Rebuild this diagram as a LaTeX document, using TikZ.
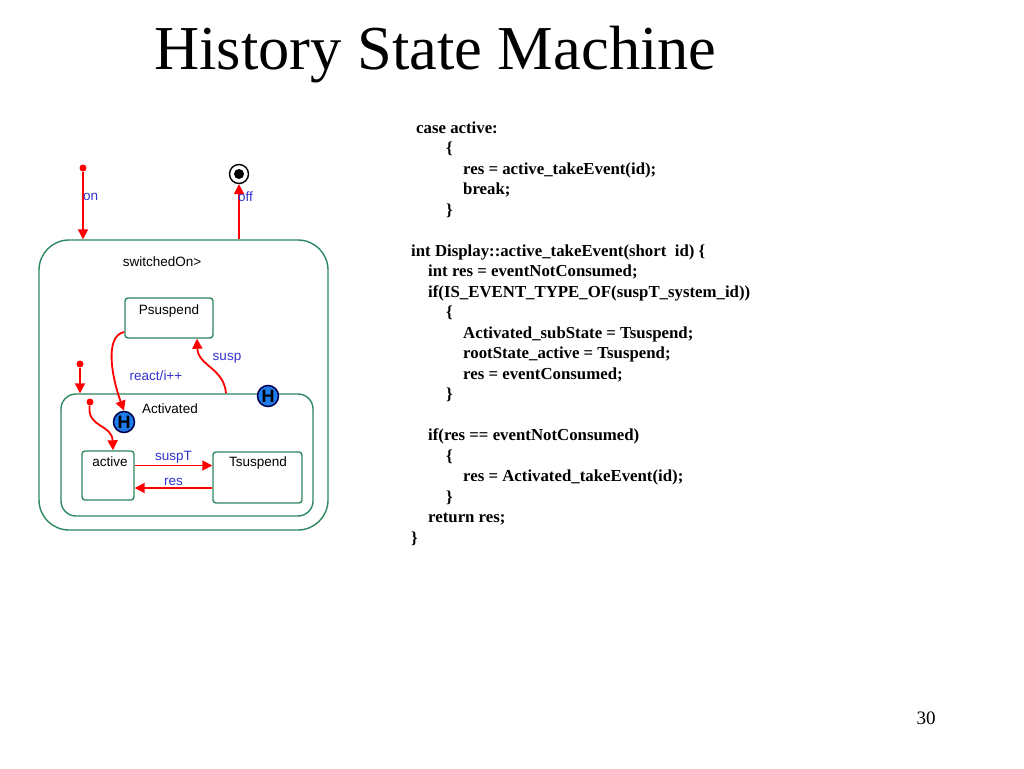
\documentclass[tikz,border=0pt]{standalone}
\usepackage{fontspec}
\setmainfont{Liberation Serif}
\setsansfont{Liberation Sans}
\usetikzlibrary{arrows.meta,positioning}
\definecolor{stgreen}{RGB}{45,135,95}
\definecolor{lblblue}{RGB}{50,50,205}
\definecolor{hblue}{RGB}{30,125,235}
\tikzset{
  st/.style={draw=stgreen, line width=1.4pt, rounded corners=3pt, inner sep=0pt},
  stname/.style={font=\sffamily\fontsize{13.5}{15}\selectfont, inner sep=0pt},
  trans/.style={draw=red, line width=1.8pt, -{Triangle[length=10pt,width=10pt]}},
  lbl/.style={font=\sffamily\fontsize{13.5}{15}\selectfont, text=lblblue, inner sep=1pt},
  dot/.style={circle, fill=red, minimum size=7pt, inner sep=0pt},
  hist/.style={circle, fill=hblue, draw=blue!30!black, line width=1.5pt, minimum size=21pt, inner sep=0pt, font=\sffamily\bfseries\fontsize{18}{18}\selectfont},
  code/.style={anchor=base west, font=\bfseries\fontsize{16.8}{19}\selectfont, inner sep=0pt}
}
\begin{document}
\begin{tikzpicture}[x=1pt,y=-1pt]
\useasboundingbox (0,0) rectangle (1024,768);
 % title:
\node[font=\fontsize{62.5}{70}\selectfont, anchor=base west, inner sep=0pt] (title) at (154,70) {History State Machine};
 % states:
\node[st, rounded corners=30pt, minimum width=289pt, minimum height=290pt] (on) at (183.5,385) {};
\node[stname] (lon) at (162,262) {switchedOn>};
\node[st, minimum width=88pt, minimum height=40pt] (psusp) at (169,318) {};
\node[stname] (lpsusp) at (169,311) {Psuspend};
\node[st, rounded corners=15pt, minimum width=252pt, minimum height=122pt] (actd) at (187,455) {};
\node[stname] (lactd) at (170,409) {Activated};
\node[st, minimum width=52pt, minimum height=49pt] (act) at (108,475.5) {};
\node[stname] (lact) at (110,462) {active};
\node[st, minimum width=89pt, minimum height=51pt] (tsusp) at (257.5,477.5) {};
\node[stname] (ltsusp) at (258,463) {Tsuspend};
 % history states:
\node[hist] (h1) at (124,422) {H};
\node[hist] (h2) at (268,396) {H};
 % initial and final:
\node[dot] (init) at (83,168) {};
\node[dot] (initact) at (80,364) {};
\node[dot] (initin) at (90,402) {};
\node[circle, draw, line width=1.4pt, minimum size=19pt, inner sep=0pt] (fin) at (239,174) {};
\node[circle, fill, minimum size=10pt, inner sep=0pt] (finin) at (fin) {};
 % transitions:
\draw[trans] (init) -- (init |- on.north);
\node[lbl, anchor=west] (lblon) at (82,197) {on};
\coordinate (offsrc) at (fin |- on.north);
\draw[trans] (offsrc) -- (fin.south);
\node[lbl, anchor=west] (lbloff) at (237,197) {off};
\draw[trans] (initact) -- (initact |- actd.north);
\draw[trans] (initin) .. controls (87,428) and (112,424) .. ([xshift=5pt]act.north);
\draw[trans] ([yshift=-14pt]psusp.west) .. controls (104,336) and (112,378) .. (h1.north);
\node[lbl] (lblreact) at (156,376) {react/i++};
\draw[trans] ([xshift=39pt]actd.north) .. controls (224,368) and (198,366) .. ([xshift=28pt]psusp.south);
\node[lbl] (lblsusp) at (227,358) {susp};
\coordinate (sT) at ([yshift=10pt]act.east);
\draw[trans] (sT) -- (sT -| tsusp.west) node[lbl, midway, above] (lblsuspT) {suspT};
\coordinate (rs) at ([yshift=-12.5pt]act.east);
\draw[trans] (rs -| tsusp.west) -- (rs) node[lbl, midway, above] (lblres) {res};
 % code:
\node[code] (c1) at (416,133) {case active:};
\node[code] (c2) at (446,153) {\{};
\node[code] (c3) at (463,174) {res = active\_takeEvent(id);};
\node[code] (c4) at (463,194) {break;};
\node[code] (c5) at (446,215) {\}};
\node[code] (c6) at (411,256) {int Display::active\_takeEvent(short\ \ id) \{};
\node[code] (c7) at (428,276) {int res = eventNotConsumed;};
\node[code] (c8) at (428,297) {if(IS\_EVENT\_TYPE\_OF(suspT\_system\_id))};
\node[code] (c9) at (446,317) {\{};
\node[code] (c10) at (463,338) {Activated\_subState = Tsuspend;};
\node[code] (c11) at (463,358) {rootState\_active = Tsuspend;};
\node[code] (c12) at (463,379) {res = eventConsumed;};
\node[code] (c13) at (446,399) {\}};
\node[code] (c14) at (428,440) {if(res == eventNotConsumed)};
\node[code] (c15) at (446,461) {\{};
\node[code] (c16) at (463,481) {res = Activated\_takeEvent(id);};
\node[code] (c17) at (446,502) {\}};
\node[code] (c18) at (428,522) {return res;};
\node[code] (c19) at (411,543) {\}};
 % page number:
\node[font=\fontsize{19}{21}\selectfont] (pgno) at (926,718) {30};
\end{tikzpicture}
\end{document}
